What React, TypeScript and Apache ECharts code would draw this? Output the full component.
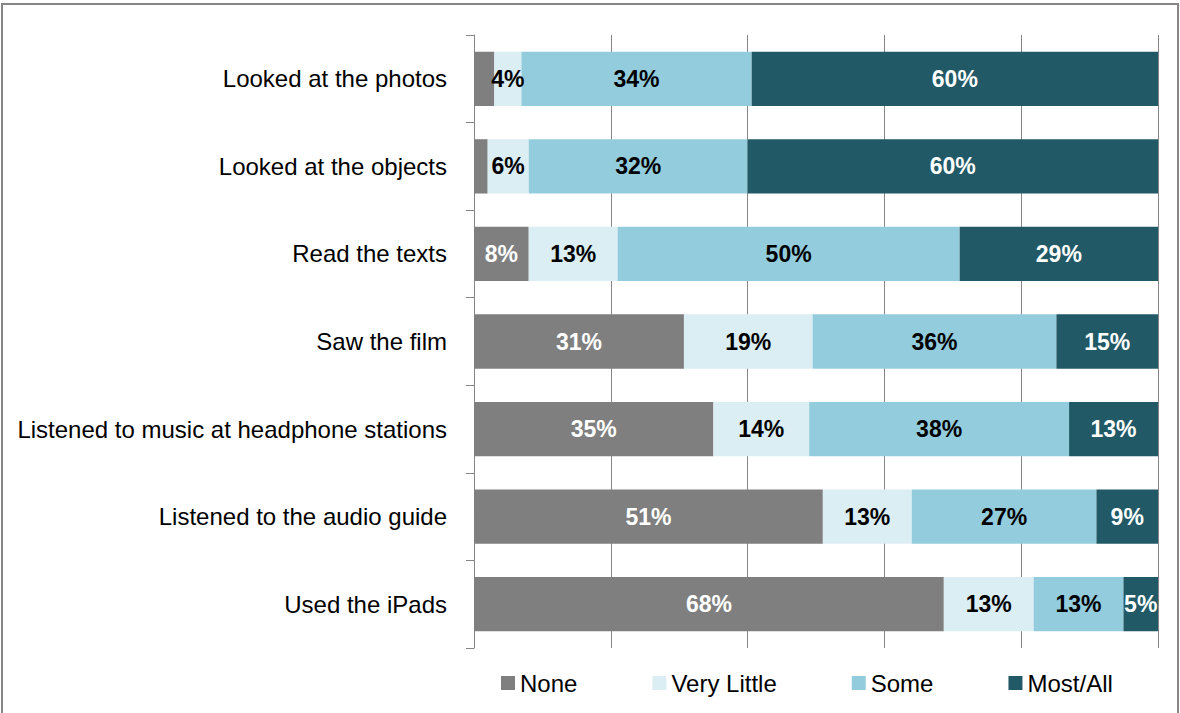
import React, { useEffect, useRef } from "react";
import * as echarts from "echarts";

const categories = [
  "Looked at the photos",
  "Looked at the objects",
  "Read the texts",
  "Saw the film",
  "Listened to music at headphone stations",
  "Listened to the audio guide",
  "Used the iPads",
];
const seriesNames = ["None", "Very Little", "Some", "Most/All"];
const noneVals = [3, 2, 8, 31, 35, 51, 68];
const veryLittleVals = [4, 6, 13, 19, 14, 13, 13];
const someVals = [34, 32, 50, 36, 38, 27, 13];
const mostAllVals = [60, 60, 29, 15, 13, 9, 5];
const xTicks = [0, 20, 40, 60, 80, 100];

const FONT = "'Liberation Sans', Arial, sans-serif";
const colors = ["#7f7f7f", "#dbeef4", "#93cddd", "#215967"];
const labelColors = ["#ffffff", "#000000", "#000000", "#ffffff"];

export default function App() {
  const ref = useRef<HTMLDivElement>(null);
  useEffect(() => {
    document.body.style.margin = "0";
    if (!ref.current) return;
    const chart = echarts.init(ref.current, null, { renderer: "svg" });
    const raw = [noneVals, veryLittleVals, someVals, mostAllVals];
    const totals = categories.map((_, i) => raw.reduce((s, arr) => s + arr[i], 0));
    const series = raw.map((arr, si) => ({
      name: seriesNames[si],
      type: "bar",
      stack: "total",
      barWidth: "62%",
      itemStyle: { color: colors[si] },
      label: {
        show: true,
        position: "inside",
        color: labelColors[si],
        fontFamily: FONT,
        fontWeight: "bold",
        fontSize: 23,
        formatter: (p: any) => (arr[p.dataIndex] >= 4 ? arr[p.dataIndex] + "%" : ""),
      },
      data: arr.map((v, i) => (v / totals[i]) * 100),
    }));
    chart.setOption({
      animation: false,
      color: colors,
      grid: { left: 474, right: 22, top: 35, bottom: 65, containLabel: false, outerBoundsMode: "none" },
      xAxis: {
        type: "value",
        min: xTicks[0],
        max: xTicks[xTicks.length - 1],
        interval: 20,
        axisLabel: { show: false },
        axisLine: { show: false },
        axisTick: { show: false },
        splitLine: { show: true, lineStyle: { color: "#868686", width: 1 } },
      },
      yAxis: {
        type: "category",
        inverse: true,
        data: categories,
        axisLine: { show: true, lineStyle: { color: "#868686", width: 1 } },
        axisTick: { show: true, length: 8, alignWithLabel: false, lineStyle: { color: "#868686" } },
        axisLabel: { margin: 27, color: "#000000", fontFamily: FONT, fontSize: 24 },
      },
      legend: {
        data: seriesNames,
        left: 496,
        top: 666,
        itemWidth: 14,
        itemHeight: 14,
        itemGap: 75,
        icon: "rect",
        textStyle: { fontFamily: FONT, fontSize: 24, color: "#000000" },
      },
      graphic: [
        {
          type: "rect",
          shape: { x: 2, y: 4, width: 1176, height: 740 },
          style: { fill: "none", stroke: "#868686", lineWidth: 2 },
          silent: true,
        },
      ],
      series,
    });
    return () => chart.dispose();
  }, []);
  return <div ref={ref} style={{ width: 1180, height: 713 }} />;
}
